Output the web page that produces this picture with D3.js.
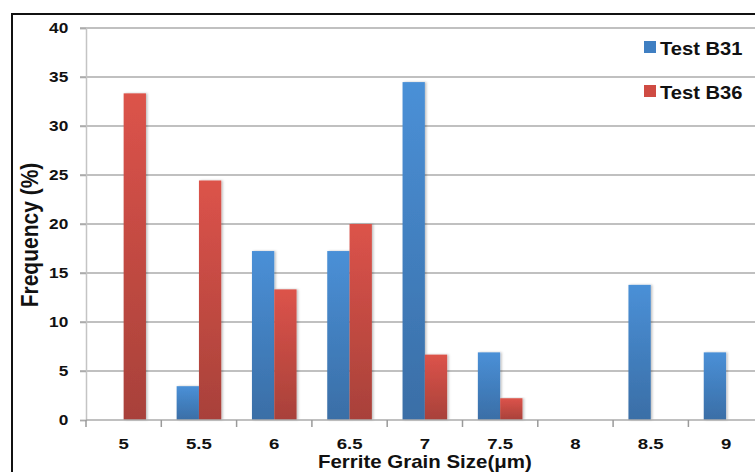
<!DOCTYPE html>
<html>
<head>
<meta charset="utf-8">
<script src="https://cdn.jsdelivr.net/npm/d3@7/dist/d3.min.js"></script>
<style>
  html, body { margin: 0; padding: 0; background: #ffffff; }
  svg { display: block; font-family: "Liberation Sans", Arial, sans-serif; }
</style>
</head>
<body>
<svg id="chart" width="755" height="472"></svg>
<script>
// Grain size classes (µm) and frequency (%) for each test
const categories = ["5", "5.5", "6", "6.5", "7", "7.5", "8", "8.5", "9"];
const seriesNames = ["Test B31", "Test B36"];
const testB31 = [0, 3.45, 17.24, 17.24, 34.48, 6.9, 0, 13.79, 6.9];
const testB36 = [33.33, 24.44, 13.33, 20, 6.67, 2.22, 0, 0, 0];
const yTicks = [0, 5, 10, 15, 20, 25, 30, 35, 40];

const svg = d3.select("#chart");
const W = 755, H = 472;
const SX = 1.15; // horizontal stretch of the lettering

// Plot geometry
const plotLeft = 86, plotTop = 28, plotBottom = 420;
const step = 75.3;
const plotRight = plotLeft + step * categories.length;

const x0 = d3.scaleBand().domain(categories).range([plotLeft, plotRight]).padding(0);
const x1 = d3.scaleBand().domain(seriesNames).range([15.35, step - 15.35]).padding(0);
const y = d3.scaleLinear().domain([0, 40]).range([plotBottom, plotTop]);

const defs = svg.append("defs");
function grad(id, c1, c2) {
  const g = defs.append("linearGradient").attr("id", id)
    .attr("x1", 0).attr("y1", 0).attr("x2", 0).attr("y2", 1);
  g.append("stop").attr("offset", "0%").attr("stop-color", c1);
  g.append("stop").attr("offset", "100%").attr("stop-color", c2);
}
grad("gBlue", "#4a90d7", "#3a6ea6");
grad("gRed", "#dc534a", "#a8413a");
const shadow = defs.append("filter").attr("id", "shadow")
  .attr("x", "-20%").attr("y", "-5%").attr("width", "150%").attr("height", "110%");
shadow.append("feDropShadow").attr("dx", 1.5).attr("dy", 0).attr("stdDeviation", 1)
  .attr("flood-color", "#000").attr("flood-opacity", 0.25);

const colors = { "Test B31": "url(#gBlue)", "Test B36": "url(#gRed)" };
const legendColors = { "Test B31": "#3f7fc2", "Test B36": "#cf4b43" };

// Outer frame
svg.append("rect").attr("x", 12).attr("y", 14).attr("width", W).attr("height", H)
  .attr("fill", "none").attr("stroke", "#111").attr("stroke-width", 2);

// Horizontal gridlines
svg.append("g").selectAll("line").data(yTicks.filter(d => d > 0)).join("line")
  .attr("x1", plotLeft - 6).attr("x2", W)
  .attr("y1", d => y(d)).attr("y2", d => y(d))
  .attr("stroke", "#ababab").attr("stroke-width", 1.5);

// Y axis
const yAxis = d3.axisLeft(y).tickValues(yTicks).tickSize(6).tickPadding(9.4);
const gy = svg.append("g").attr("transform", `translate(${plotLeft},0)`).call(yAxis);
gy.select(".domain").attr("stroke", "#c4c4c4").attr("stroke-width", 1.5);
gy.selectAll(".tick line").attr("stroke", "#ababab").attr("stroke-width", 1.5);
gy.selectAll(".tick text").attr("font-size", 15).attr("font-weight", "bold")
  .attr("fill", "#111").attr("font-family", "Liberation Sans, Arial, sans-serif")
  .attr("transform", `scale(${SX},1)`);

// Bars
const data = categories.map((c, i) => ({ cat: c, values: [
  { name: "Test B31", v: testB31[i] }, { name: "Test B36", v: testB36[i] }] }));
svg.append("g").selectAll("g").data(data).join("g")
  .attr("transform", d => `translate(${x0(d.cat)},0)`)
  .selectAll("rect").data(d => d.values.filter(e => e.v > 0)).join("rect")
  .attr("x", d => x1(d.name)).attr("width", x1.bandwidth())
  .attr("y", d => y(d.v)).attr("height", d => y(0) - y(d.v))
  .attr("fill", d => colors[d.name]).attr("filter", "url(#shadow)");

// X axis with ticks at category boundaries
svg.append("line").attr("x1", plotLeft).attr("x2", W).attr("y1", plotBottom).attr("y2", plotBottom)
  .attr("stroke", "#ababab").attr("stroke-width", 1.5);
const boundaries = categories.map(c => x0(c)).concat([plotRight]);
svg.append("g").selectAll("line").data(boundaries).join("line")
  .attr("x1", d => d).attr("x2", d => d).attr("y1", plotBottom).attr("y2", plotBottom + 7)
  .attr("stroke", "#9a9a9a").attr("stroke-width", 1.5);
svg.append("g").selectAll("text").data(categories).join("text")
  .attr("transform", d => `translate(${x0(d) + x0.bandwidth() / 2},448.5) scale(1.2,1)`)
  .attr("text-anchor", "middle").attr("font-size", 15.5).attr("font-weight", "bold")
  .attr("fill", "#111").text(d => d);

// Axis titles
svg.append("text").attr("transform", `translate(${(plotLeft + plotRight) / 2},467.5) scale(1.17,1)`)
  .attr("text-anchor", "middle")
  .attr("font-size", 17.5).attr("font-weight", "bold").attr("fill", "#111")
  .text("Ferrite Grain Size(μm)");
svg.append("text").attr("transform", "translate(38,235) scale(1.11,1) rotate(-90)")
  .attr("text-anchor", "middle").attr("font-size", 21).attr("font-weight", "bold")
  .attr("fill", "#111").text("Frequency (%)");

// Legend
const lg = svg.append("g").selectAll("g").data(seriesNames).join("g")
  .attr("transform", (d, i) => `translate(644,${41 + i * 44})`);
lg.append("rect").attr("width", 12).attr("height", 12)
  .attr("fill", d => legendColors[d]);
lg.append("text").attr("transform", "translate(16,14) scale(1.12,1)")
  .attr("font-size", 18).attr("font-weight", "bold").attr("fill", "#111").text(d => d);
</script>
</body>
</html>
